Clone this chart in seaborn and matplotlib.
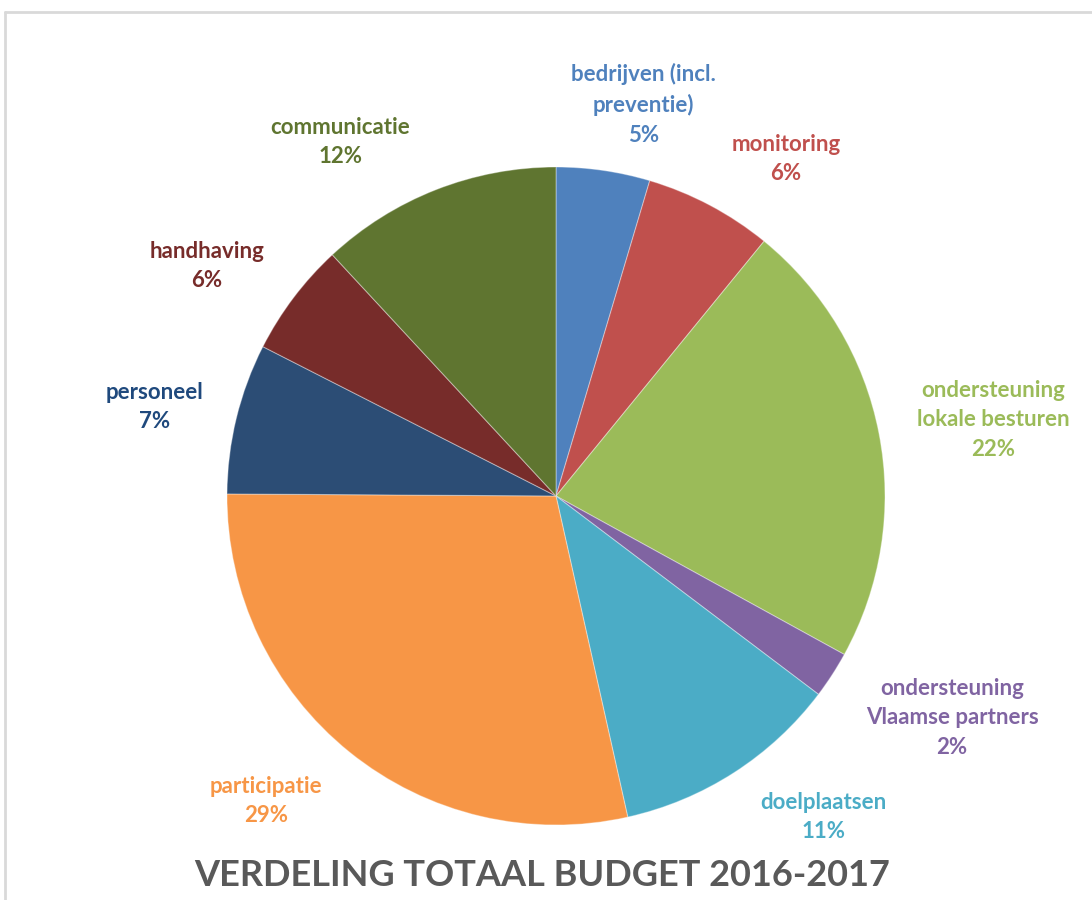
import numpy as np
import seaborn as sns
import matplotlib.pyplot as plt
from matplotlib.lines import Line2D

# 数据 (shares, labels show rounded %)
labels = ['bedrijven (incl.\npreventie)', 'monitoring', 'ondersteuning\nlokale besturen',
          'ondersteuning\nVlaamse partners', 'doelplaatsen', 'participatie',
          'personeel', 'handhaving', 'communicatie']
shares = [4.6, 6.3, 22.1, 2.3, 11.2, 28.6, 7.4, 5.6, 11.9]
colors = ['#4F81BD', '#C0504D', '#9BBB59', '#8064A2', '#4BACC6',
          '#F79646', '#2C4D75', '#772C2A', '#5F7530']
text_colors = ['#4F81BD', '#C0504D', '#9BBB59', '#8064A2', '#4BACC6',
               '#F79646', '#1F497D', '#772C2A', '#5F7530']
title = 'VERDELING TOTAAL BUDGET 2016-2017'

# label placement (distance in radii, nudge in degrees clockwise)
label_dist = [1.22, 1.24, 1.35, 1.38, 1.27, 1.28, 1.25, 1.27, 1.26]
label_nudge = [4.3, 6.4, 1.1, -3.7, -7.0, 4.7, -1.2, -3.7, -9.9]

sns.set_theme(style='white')
plt.rcParams['font.family'] = ['Lato', 'DejaVu Sans']

W, H, dpi = 1092, 900, 100
fig = plt.figure(figsize=(W / dpi, H / dpi), dpi=dpi)
ax = fig.add_axes([0, 0, 1, 1])

wedges, _ = ax.pie(shares, colors=colors, startangle=90, counterclock=False,
                   wedgeprops=dict(edgecolor=(1, 1, 1, 0.35), linewidth=0.8))

# radius 329 px, centre at (556, 496) px
R = 329.0
cx, cy = 556.0, 496.0
ax.set_xlim(-cx / R, (W - cx) / R)
ax.set_ylim(-(H - cy) / R, cy / R)
ax.set_aspect('auto')
ax.axis('off')

for w, lab, s, d, nd, tc in zip(wedges, labels, shares, label_dist, label_nudge, text_colors):
    ang = np.deg2rad((w.theta1 + w.theta2) / 2 - nd)
    ax.text(d * np.cos(ang), d * np.sin(ang), f'{lab}\n{s:.0f}%', ha='center', va='center',
            color=tc, fontsize=16, fontweight='bold', linespacing=1.5)

fig.text(542 / W, 1 - 876 / H, title, ha='center', va='center',
         fontsize=26, fontweight='bold', color='#595959')

# frame of the original slide
fig.add_artist(Line2D([5 / W, 1], [1 - 12 / H, 1 - 12 / H], color='#D9D9D9', lw=2))
fig.add_artist(Line2D([5 / W, 5 / W], [0, 1 - 12 / H], color='#D9D9D9', lw=2))

fig.savefig('out.png', dpi=dpi, facecolor='white')
